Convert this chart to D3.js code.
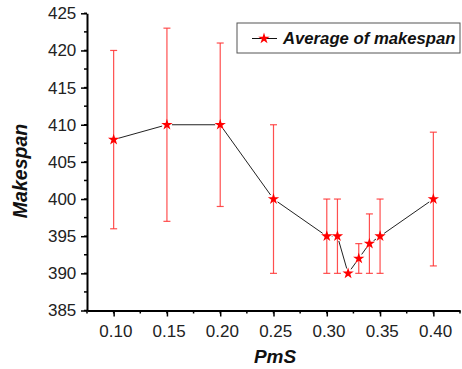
<!DOCTYPE html>
<html><head><meta charset="utf-8">
<script src="https://cdn.jsdelivr.net/npm/d3@7"></script>
<style>body{margin:0;background:#fff}svg{display:block}</style>
</head><body>
<svg id="c" width="462" height="369"></svg>
<script>
const pms = [0.10,0.15,0.20,0.25,0.30,0.31,0.32,0.33,0.34,0.35,0.40];
const avg = [408,410,410,400,395,395,390,392,394,395,400];
const upper = [420,423,421,410,400,400,390,394,398,400,409];
const lower = [396,397,399,390,390,390,390,390,390,390,391];
const xTicks = [0.10,0.15,0.20,0.25,0.30,0.35,0.40];
const yTicks = [385,390,395,400,405,410,415,420,425];

const svg = d3.select("#c");
const x = d3.scaleLinear().domain([0.075,0.425]).range([87,460]);
const y = d3.scaleLinear().domain([385,425]).range([310.5,13.3]);
const font = "Liberation Sans, Arial, sans-serif";

// minor ticks
const g = svg.append("g");
const xMinor = d3.range(0.075,0.426,0.025);
g.selectAll(".xm").data(xMinor).join("line")
 .attr("x1",d=>x(d)).attr("x2",d=>x(d)).attr("y1",310.5).attr("y2",313.5)
 .attr("stroke","#000").attr("stroke-width",1.5);
const yMinor = d3.range(385,425.1,2.5);
g.selectAll(".ym").data(yMinor).join("line")
 .attr("x1",87).attr("x2",84).attr("y1",d=>y(d)).attr("y2",d=>y(d))
 .attr("stroke","#000").attr("stroke-width",1.5);

// axes
const xAxis = svg.append("g").attr("transform","translate(0,310.5)")
 .call(d3.axisBottom(x).tickValues(xTicks).tickFormat(d3.format(".2f")).tickSize(6).tickSizeOuter(0));
const yAxis = svg.append("g").attr("transform","translate(87,0)")
 .call(d3.axisLeft(y).tickValues(yTicks).tickSize(6).tickSizeOuter(0));
[xAxis,yAxis].forEach(a=>{
  a.select(".domain").attr("stroke-width",2);
  a.selectAll(".tick line").attr("stroke-width",1.5);
  a.selectAll("text").attr("font-family",font).attr("font-size",17).attr("fill","#222");
});
xAxis.selectAll("text").attr("dy","1.05em").attr("dx","0.1em");
yAxis.selectAll("text").attr("dx","-0.1em");

// error bars
const err = svg.append("g").attr("stroke","#ff3030").attr("stroke-opacity",0.85).attr("stroke-width",1.2);
pms.forEach((p,i)=>{
  if(upper[i]===lower[i]) return;
  err.append("line").attr("x1",x(p)).attr("x2",x(p)).attr("y1",y(upper[i])).attr("y2",y(lower[i]));
  [upper[i],lower[i]].forEach(v=>err.append("line").attr("x1",x(p)-3.5).attr("x2",x(p)+3.5).attr("y1",y(v)).attr("y2",y(v)));
});

// line segments with small gaps at the markers
const pts = pms.map((p,i)=>[x(p),y(avg[i])]);
const gap = 5;
const lg = svg.append("g").attr("stroke","#222").attr("stroke-width",1);
for(let i=0;i<pts.length-1;i++){
  const [x1,y1]=pts[i],[x2,y2]=pts[i+1];
  const L=Math.hypot(x2-x1,y2-y1);
  if(L<=2*gap) continue;
  const ux=(x2-x1)/L, uy=(y2-y1)/L;
  lg.append("line").attr("x1",x1+ux*gap).attr("y1",y1+uy*gap).attr("x2",x2-ux*gap).attr("y2",y2-uy*gap);
}

// stars
const star = d3.symbol().type(d3.symbolStar).size(40);
svg.selectAll(".pt").data(pms).join("path")
 .attr("d",star).attr("transform",(d,i)=>`translate(${x(d)},${y(avg[i])})`)
 .attr("fill","#ff0000");

// legend
svg.append("rect").attr("x",237).attr("y",23).attr("width",223).attr("height",30)
 .attr("fill","#fff").attr("stroke","#555").attr("stroke-width",1);
svg.append("line").attr("x1",252).attr("x2",277).attr("y1",38.5).attr("y2",38.5).attr("stroke","#111").attr("stroke-width",1);
svg.append("path").attr("d",star).attr("transform","translate(264,38.5)").attr("fill","#ff0000");
svg.append("text").attr("x",283).attr("y",44).attr("font-family",font).attr("font-size",16.7)
 .attr("font-weight","bold").attr("font-style","italic").attr("fill","#111").text("Average of makespan");

// axis titles
svg.append("text").attr("x",275).attr("y",363).attr("text-anchor","middle").attr("font-family",font)
 .attr("font-size",19).attr("font-weight","bold").attr("font-style","italic").attr("fill","#111").text("PmS");
svg.append("text").attr("transform","translate(27,171) rotate(-90)").attr("text-anchor","middle").attr("font-family",font)
 .attr("font-size",19.5).attr("font-weight","bold").attr("font-style","italic").attr("fill","#111").text("Makespan");
</script>
</body></html>
